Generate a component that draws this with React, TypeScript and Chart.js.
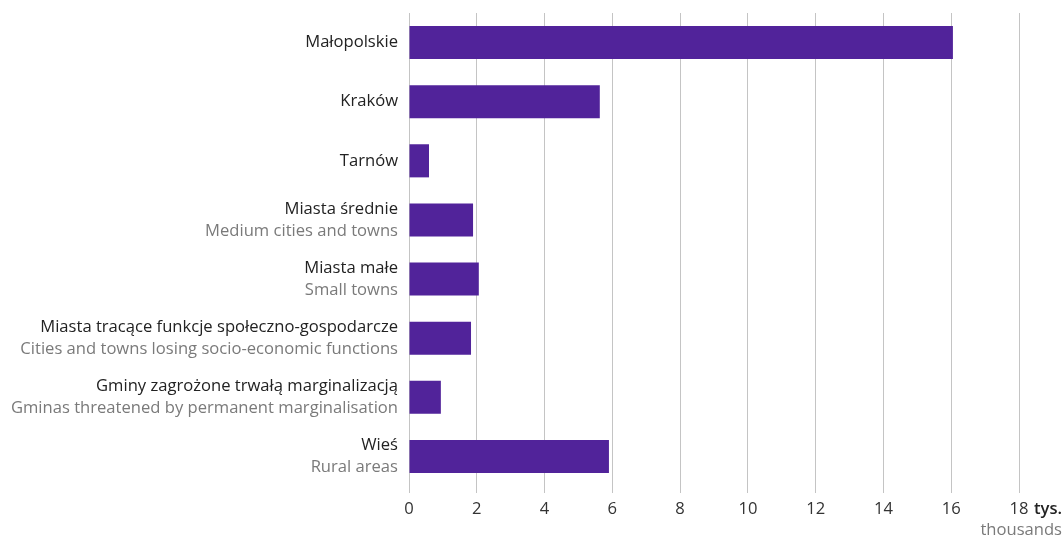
import React, { useEffect, useRef } from "react";
import { Chart, registerables } from "chart.js";

Chart.register(...registerables);

const categoriesPl = [
  "Małopolskie",
  "Kraków",
  "Tarnów",
  "Miasta średnie",
  "Miasta małe",
  "Miasta tracące funkcje społeczno-gospodarcze",
  "Gminy zagrożone trwałą marginalizacją",
  "Wieś",
];
const categoriesEn = [
  "",
  "",
  "",
  "Medium cities and towns",
  "Small towns",
  "Cities and towns losing socio-economic functions",
  "Gminas threatened by permanent marginalisation",
  "Rural areas",
];
const values = [16.05, 5.63, 0.59, 1.89, 2.06, 1.83, 0.94, 5.9];
const axisUnitPl = "tys.";
const axisUnitEn = "thousands";

const FONT = "'Open Sans', sans-serif";
const FS = 16.6;

const labelPlugin = {
  id: "twoColorLabels",
  afterDraw(chart: any) {
    const ctx = chart.ctx;
    const y = chart.scales.y;
    const x = chart.scales.x;
    ctx.save();
    ctx.textAlign = "right";
    ctx.textBaseline = "middle";
    ctx.font = `${FS}px ${FONT}`;
    const right = x.left - 11;
    categoriesPl.forEach((pl, i) => {
      const cy = y.getPixelForValue(i);
      const en = categoriesEn[i];
      if (en) {
        ctx.fillStyle = "#222222";
        ctx.fillText(pl, right, cy - 11);
        ctx.fillStyle = "#7a7a7a";
        ctx.fillText(en, right, cy + 11);
      } else {
        ctx.fillStyle = "#222222";
        ctx.fillText(pl, right, cy);
      }
    });
    ctx.textAlign = "right";
    ctx.fillStyle = "#222222";
    ctx.font = `600 ${FS}px ${FONT}`;
    ctx.fillText(axisUnitPl, chart.width - 2, 509);
    ctx.fillStyle = "#7a7a7a";
    ctx.font = `${FS}px ${FONT}`;
    ctx.fillText(axisUnitEn, chart.width - 2, 530);
    ctx.restore();
  },
};

export default function App() {
  const ref = useRef<HTMLCanvasElement | null>(null);
  useEffect(() => {
    if (!ref.current) return;
    const chart = new Chart(ref.current, {
      type: "bar",
      data: {
        labels: categoriesPl,
        datasets: [
          {
            data: values,
            backgroundColor: "#51239a",
            borderWidth: 0,
            barPercentage: 0.56,
            categoryPercentage: 1,
          },
        ],
      },
      options: {
        indexAxis: "y",
        animation: false,
        responsive: false,
        maintainAspectRatio: false,
        layout: { padding: { top: 13, right: 45, left: 0, bottom: 0 } },
        plugins: { legend: { display: false }, tooltip: { enabled: false } },
        scales: {
          x: {
            min: 0,
            max: 18,
            ticks: {
              stepSize: 2,
              color: "#333333",
              font: { family: FONT, size: FS },
              padding: 6,
            },
            grid: {
              color: "#c4c4c4",
              lineWidth: 1,
              tickLength: 7,
              drawTicks: true,
            },
            border: { display: false },
            afterFit: (s: any) => {
              s.height = 53;
            },
          },
          y: {
            ticks: { display: false },
            grid: { display: false },
            border: { display: false },
            afterFit: (s: any) => {
              s.width = 409;
            },
          },
        },
      },
      plugins: [labelPlugin],
    });
    return () => chart.destroy();
  }, []);
  return (
    <div style={{ position: "fixed", left: 0, top: 0, width: 1064, height: 539, background: "#fff" }}>
      <canvas ref={ref} width={1064} height={539} style={{ display: "block" }} />
    </div>
  );
}
